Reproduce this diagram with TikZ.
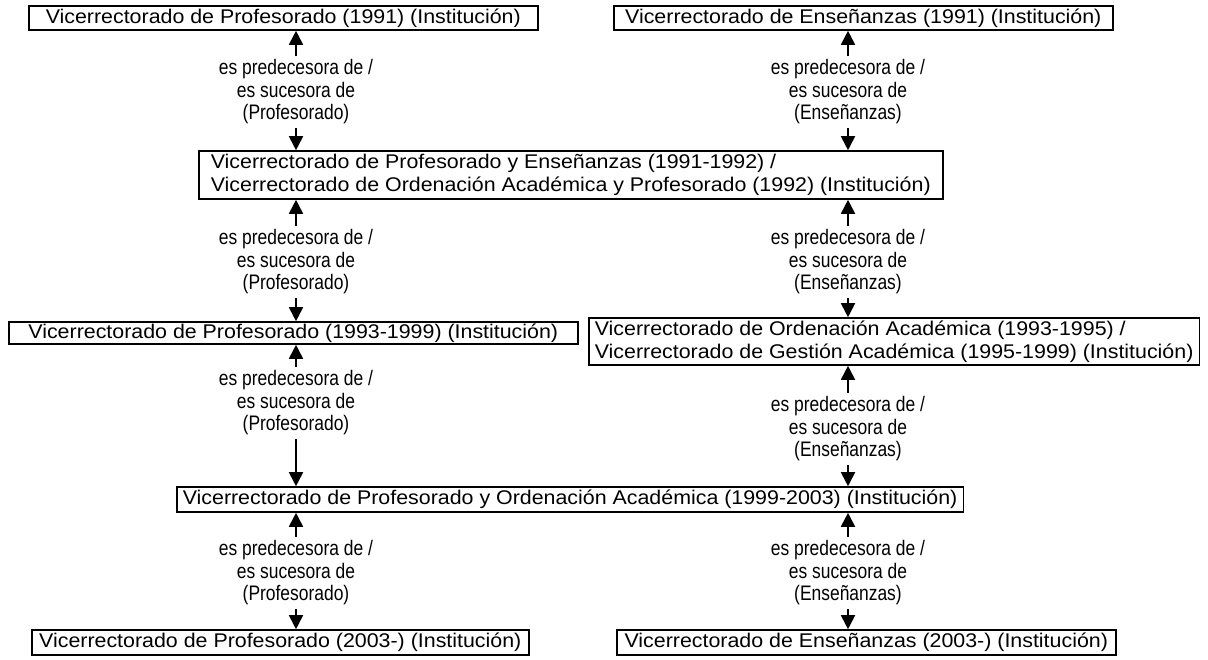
\documentclass[tikz,border=0pt]{standalone}
\usepackage{fontspec}
\usetikzlibrary{arrows.meta}
\newfontfamily\boxfont[FakeStretch=1.08]{Liberation Sans}
\newfontfamily\labfont[FakeStretch=0.83]{Liberation Sans}
\begin{document}
\begin{tikzpicture}[x=1pt,y=-1pt,
  inst/.style={draw=black, line width=1.6pt, anchor=west, inner xsep=6pt, inner ysep=0pt,
    font=\boxfont\fontsize{19.8}{23}\selectfont, text height=14pt, text depth=4pt},
  inst2/.style={draw=black, line width=1.6pt, anchor=west, inner xsep=6pt, inner ysep=0pt,
    align=left, font=\boxfont\fontsize{19.8}{23}\selectfont},
  rel/.style={align=center, inner xsep=2pt, inner ysep=4pt,
    font=\labfont\fontsize{21}{22.5}\selectfont},
  arr/.style={-{Triangle[width=14pt,length=14pt]}, line width=1.8pt}
]
\useasboundingbox (0,0) rectangle (1208,659);
\fill[white] (0,0) rectangle (1208,659);

% boxes
\node[inst, minimum width=509pt, minimum height=24pt] (b1) at (28,18)
  {Vicerrectorado de Profesorado (1991) (Institución)};
\node[inst, minimum width=499pt, minimum height=24pt] (b2) at (613,18)
  {Vicerrectorado de Enseñanzas (1991) (Institución)};
\node[inst2, minimum width=744pt, minimum height=48pt] (b3) at (198,175)
  {Vicerrectorado de Profesorado y Enseñanzas (1991-1992) /\\Vicerrectorado de Ordenación Académica y Profesorado (1992) (Institución)};
\node[inst, minimum width=569pt, minimum height=22pt] (b4) at (8,333)
  {Vicerrectorado de Profesorado (1993-1999) (Institución)};
\node[inst2, minimum width=608pt, minimum height=47pt] (b5) at (588,341.5)
  {Vicerrectorado de Ordenación Académica (1993-1995) /\\Vicerrectorado de Gestión Académica (1995-1999) (Institución)};
\node[inst, minimum width=786pt, minimum height=25pt] (b6) at (176,499.5)
  {Vicerrectorado de Profesorado y Ordenación Académica (1999-2003) (Institución)};
\node[inst, minimum width=497pt, minimum height=25pt] (b7) at (31,642.5)
  {Vicerrectorado de Profesorado (2003-) (Institución)};
\node[inst, minimum width=499pt, minimum height=25pt] (b8) at (616,642.5)
  {Vicerrectorado de Enseñanzas (2003-) (Institución)};

% labels
\node[rel] (l1a) at (296,92) {es predecesora de /\\es sucesora de\\(Profesorado)};
\node[rel] (l1b) at (848,92) {es predecesora de /\\es sucesora de\\(Enseñanzas)};
\node[rel] (l2a) at (296,262) {es predecesora de /\\es sucesora de\\(Profesorado)};
\node[rel] (l2b) at (848,262) {es predecesora de /\\es sucesora de\\(Enseñanzas)};
\node[rel] (l3a) at (296,403) {es predecesora de /\\es sucesora de\\(Profesorado)};
\node[rel] (l3b) at (848,429) {es predecesora de /\\es sucesora de\\(Enseñanzas)};
\node[rel] (l4a) at (296,573) {es predecesora de /\\es sucesora de\\(Profesorado)};
\node[rel] (l4b) at (848,573) {es predecesora de /\\es sucesora de\\(Enseñanzas)};

% connectors
\foreach \l/\u/\d in {l1a/b1/b3, l1b/b2/b3, l2a/b3/b4, l2b/b3/b5, l3a/b4/b6, l3b/b5/b6, l4a/b6/b7, l4b/b6/b8}{
  \draw[arr] (\l.north) -- (\l.north |- \u.south);
  \draw[arr] (\l.south) -- (\l.south |- \d.north);
}
\end{tikzpicture}
\end{document}
